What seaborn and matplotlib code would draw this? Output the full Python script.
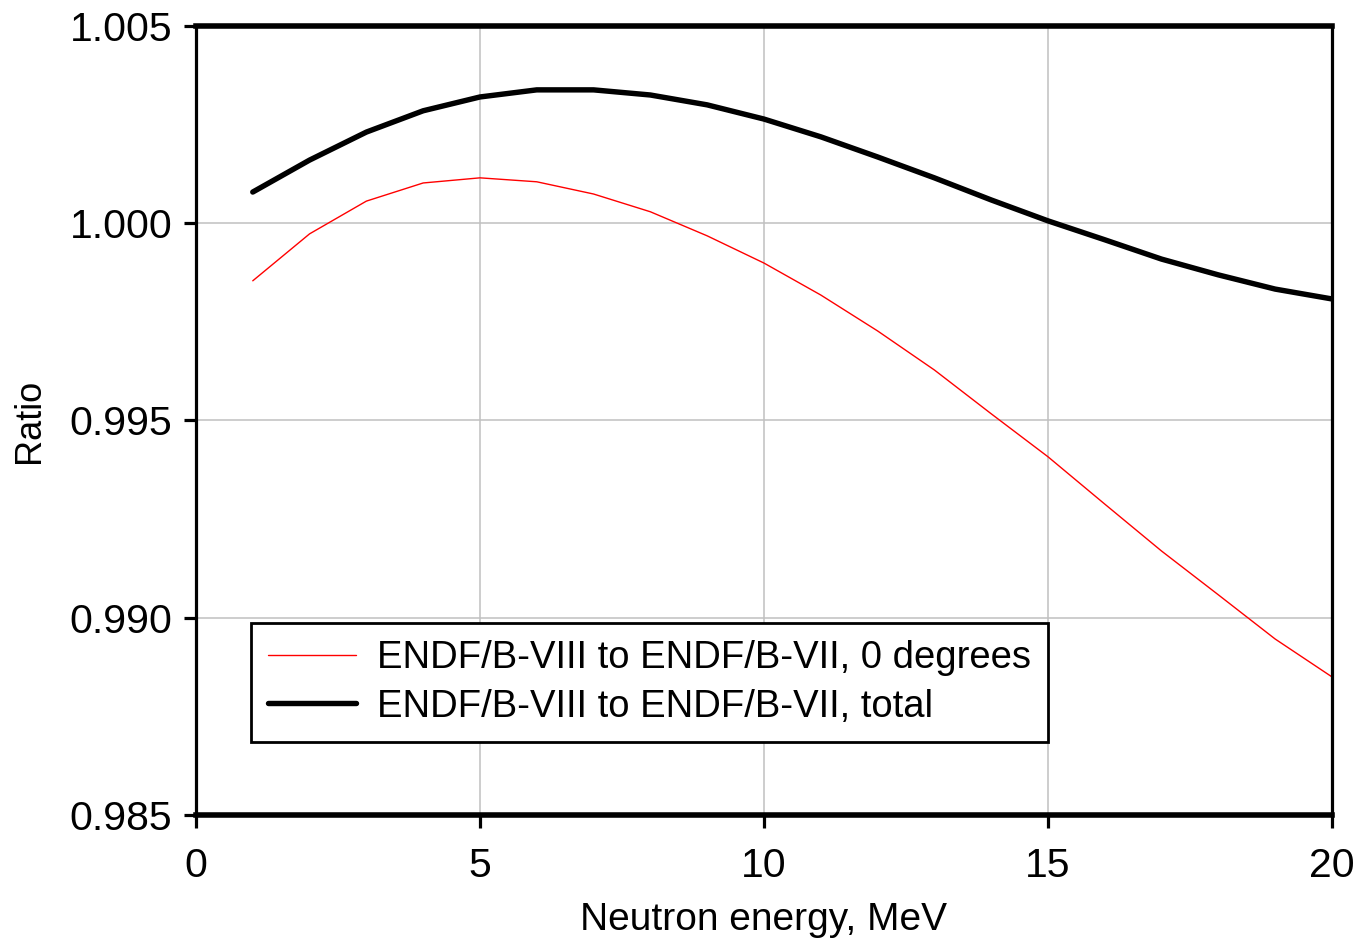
import numpy as np
import pandas as pd
import matplotlib
matplotlib.use("Agg")
import matplotlib.pyplot as plt
import seaborn as sns

energy = list(range(1, 21))
ratio_0deg = [0.99854, 0.99973, 1.00056, 1.00102, 1.00115, 1.00105, 1.00074, 1.00029,
              0.99968, 0.99899, 0.99818, 0.99727, 0.99628, 0.99517, 0.99408, 0.99288,
              0.99169, 0.99058, 0.98946, 0.98850]
ratio_total = [1.00079, 1.00160, 1.00231, 1.00285, 1.00320, 1.00338, 1.00338, 1.00325,
               1.00300, 1.00264, 1.00219, 1.00168, 1.00115, 1.00059, 1.00006, 0.99958,
               0.99909, 0.99869, 0.99833, 0.99808]
label_0deg = "ENDF/B-VIII to ENDF/B-VII, 0 degrees"
label_total = "ENDF/B-VIII to ENDF/B-VII, total"
x_ticks = [0, 5, 10, 15, 20]
y_ticks = [0.985, 0.990, 0.995, 1.000, 1.005]

sns.set_theme(style="white")
plt.rcParams['font.family'] = ['Liberation Sans', 'DejaVu Sans']
plt.rcParams['text.color'] = 'black'
plt.rcParams['axes.labelcolor'] = 'black'
plt.rcParams['xtick.color'] = 'black'
plt.rcParams['ytick.color'] = 'black'

fig = plt.figure(figsize=(13.59, 9.44), dpi=100)
ax = fig.add_axes([0.1442, 0.1367, 0.9801 - 0.1442, 0.9725 - 0.1367])

sns.lineplot(x=energy, y=ratio_0deg, ax=ax, color="#ff0000", linewidth=1.0, label=label_0deg)
sns.lineplot(x=energy, y=ratio_total, ax=ax, color="black", linewidth=3.9, label=label_total)

ax.set_xlim(0, 20)
ax.set_ylim(0.985, 1.005)
ax.set_xticks(x_ticks)
ax.set_yticks(y_ticks)
ax.set_xticklabels([str(v) for v in x_ticks])
ax.set_yticklabels([f"{v:.3f}" for v in y_ticks])
ax.grid(True, color="#c0c0c0", linewidth=1.1)
ax.set_axisbelow(True)

for side in ["left", "right"]:
    ax.spines[side].set_linewidth(2.3)
    ax.spines[side].set_color("black")
for side in ["top", "bottom"]:
    ax.spines[side].set_linewidth(4.0)
    ax.spines[side].set_color("black")

ax.tick_params(axis="both", direction="out", length=9, width=2.3, color="black",
               labelcolor="black", labelsize=29.5, left=True, bottom=True)
ax.tick_params(axis="x", pad=14)
ax.tick_params(axis="y", pad=8)

ax.set_xlabel("Neutron energy, MeV", fontsize=28, labelpad=12, color="black")
ax.set_ylabel("Ratio", fontsize=26, labelpad=16, color="black")

leg = ax.legend(loc="upper left", bbox_to_anchor=(0.0484, 0.2433), fontsize=27.5,
                frameon=True, fancybox=False, shadow=False, handlelength=2.3,
                borderpad=0.45, labelspacing=0.33, handletextpad=0.55, borderaxespad=0)
leg.get_frame().set_edgecolor("black")
leg.get_frame().set_linewidth(2.0)
leg.get_frame().set_alpha(1)
for t in leg.get_texts():
    t.set_color("black")

fig.savefig("out.png", dpi=100)
